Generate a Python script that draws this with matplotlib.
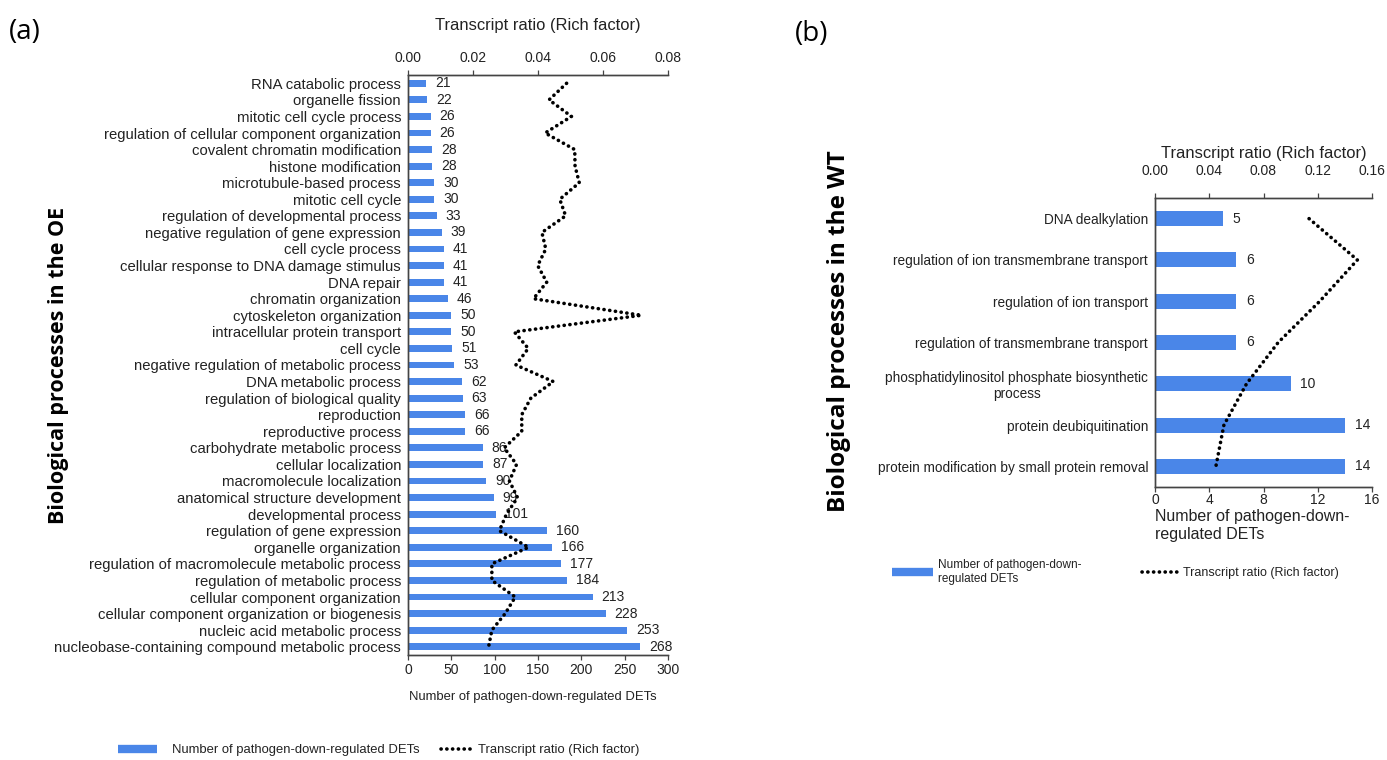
import matplotlib
matplotlib.use("Agg")
import matplotlib.pyplot as plt
from matplotlib.lines import Line2D
from matplotlib.ticker import FormatStrFormatter

# ---- Panel (a): OE ----
oe_terms = [
    "RNA catabolic process", "organelle fission", "mitotic cell cycle process",
    "regulation of cellular component organization", "covalent chromatin modification",
    "histone modification", "microtubule-based process", "mitotic cell cycle",
    "regulation of developmental process", "negative regulation of gene expression",
    "cell cycle process", "cellular response to DNA damage stimulus", "DNA repair",
    "chromatin organization", "cytoskeleton organization", "intracellular protein transport",
    "cell cycle", "negative regulation of metabolic process", "DNA metabolic process",
    "regulation of biological quality", "reproduction", "reproductive process",
    "carbohydrate metabolic process", "cellular localization", "macromolecule localization",
    "anatomical structure development", "developmental process", "regulation of gene expression",
    "organelle organization", "regulation of macromolecule metabolic process",
    "regulation of metabolic process", "cellular component organization",
    "cellular component organization or biogenesis", "nucleic acid metabolic process",
    "nucleobase-containing compound metabolic process",
]
oe_counts = [21, 22, 26, 26, 28, 28, 30, 30, 33, 39, 41, 41, 41, 46, 50, 50, 51, 53, 62,
             63, 66, 66, 86, 87, 90, 99, 101, 160, 166, 177, 184, 213, 228, 253, 268]
oe_ratio = [0.0488, 0.0434, 0.0503, 0.0422, 0.0513, 0.0514, 0.0527, 0.0467, 0.0485,
            0.0412, 0.0424, 0.0399, 0.0427, 0.0386, 0.0718, 0.0327, 0.0370, 0.0332,
            0.0447, 0.0378, 0.0350, 0.0350, 0.0296, 0.0334, 0.0312, 0.0337, 0.0303,
            0.0281, 0.0371, 0.0258, 0.0258, 0.0330, 0.0299, 0.0258, 0.0248]

# ---- Panel (b): WT ----
wt_terms = [
    "DNA dealkylation", "regulation of ion transmembrane transport",
    "regulation of ion transport", "regulation of transmembrane transport",
    "phosphatidylinositol phosphate biosynthetic\nprocess", "protein deubiquitination",
    "protein modification by small protein removal",
]
wt_counts = [5, 6, 6, 6, 10, 14, 14]
wt_ratio = [0.1136, 0.1492, 0.1215, 0.0908, 0.0675, 0.0508, 0.0449]

BLUE = "#4a86e8"
TXT = "#222222"
SPINE = "#444444"
SANS = ["Liberation Sans", "DejaVu Sans"]
HUM = ["Open Sans", "DejaVu Sans"]
plt.rcParams["font.family"] = SANS

DOT = dict(color="black", lw=2.6, linestyle=(0, (0.05, 1.55)),
           dash_capstyle="round", solid_capstyle="round")

W, H = 1387, 760
fig = plt.figure(figsize=(W / 100, H / 100), dpi=100)


def style_axes(ax, ax2, tick_fs, top_pad):
    for a in (ax, ax2):
        a.spines["right"].set_visible(False)
        for s in ("left", "bottom", "top"):
            a.spines[s].set_color(SPINE)
            a.spines[s].set_linewidth(1.0)
    ax.tick_params(axis="y", length=0, pad=5, labelcolor=TXT)
    ax.tick_params(axis="x", length=3.5, width=0.9, color=SPINE, labelsize=tick_fs,
                   labelcolor=TXT, pad=2)
    ax2.tick_params(axis="x", length=3.5, width=0.9, color=SPINE, labelsize=tick_fs,
                    labelcolor=TXT, pad=top_pad)


# ---------------- panel (a) ----------------
axa = fig.add_axes([408 / W, 1 - 655 / H, 260 / W, 580 / H])
ya = list(range(len(oe_terms)))
axa.barh(ya, oe_counts, height=0.42, color=BLUE, zorder=2)
axa.set_xlim(0, 300)
axa.set_xticks(range(0, 301, 50))
axa.set_ylim(len(oe_terms) - 0.5, -0.5)
axa.set_yticks(ya)
axa.set_yticklabels(oe_terms, fontsize=10.7)
for y, v in zip(ya, oe_counts):
    axa.annotate(str(v), (v, y), xytext=(6.5, 0), textcoords="offset points",
                 va="center", ha="left", fontsize=10, color=TXT, zorder=5)
axa.set_xlabel("Number of pathogen-down-regulated DETs", fontsize=9.4, color=TXT,
               labelpad=10, x=0.48)
axa.set_ylabel("Biological processes in the OE", fontsize=15.5, fontweight="bold",
               family=HUM, color="black")
axa.yaxis.set_label_coords((69 - 408) / 260, 0.5)

axa2 = axa.twiny()
axa2.plot(oe_ratio, ya, zorder=4, **DOT)
axa2.set_xlim(0, 0.08)
axa2.set_xticks([0, 0.02, 0.04, 0.06, 0.08])
axa2.xaxis.set_major_formatter(FormatStrFormatter("%.2f"))
axa2.set_ylim(len(oe_terms) - 0.5, -0.5)
axa2.set_xlabel("Transcript ratio (Rich factor)", fontsize=11.9, color=TXT, labelpad=15)
style_axes(axa, axa2, 10, 4)

# ---------------- panel (b) ----------------
axb = fig.add_axes([1155 / W, 1 - 487 / H, 217 / W, 289 / H])
yb = list(range(len(wt_terms)))
axb.barh(yb, wt_counts, height=0.36, color=BLUE, zorder=2)
axb.set_xlim(0, 16)
axb.set_xticks(range(0, 17, 4))
axb.set_ylim(len(wt_terms) - 0.5, -0.5)
axb.set_yticks(yb)
axb.set_yticklabels(wt_terms, fontsize=9.85, multialignment="center")
for y, v in zip(yb, wt_counts):
    axb.annotate(str(v), (v, y), xytext=(7, 0), textcoords="offset points",
                 va="center", ha="left", fontsize=10, color=TXT, zorder=5)
axb.set_xlabel("Number of pathogen-down-\nregulated DETs", fontsize=11.5, color=TXT,
               ha="left", x=0.0, labelpad=1, linespacing=1.3)
axb.set_ylabel("Biological processes in the WT", fontsize=17.5, fontweight="bold",
               family=HUM, color="black")
axb.yaxis.set_label_coords((851 - 1155) / 217, 0.54)

axb2 = axb.twiny()
axb2.plot(wt_ratio, yb, zorder=4, **DOT)
axb2.set_xlim(0, 0.16)
axb2.set_xticks([0, 0.04, 0.08, 0.12, 0.16])
axb2.xaxis.set_major_formatter(FormatStrFormatter("%.2f"))
axb2.set_ylim(len(wt_terms) - 0.5, -0.5)
axb2.set_xlabel("Transcript ratio (Rich factor)", fontsize=11.9, color=TXT, labelpad=4)
style_axes(axb, axb2, 10, 11)
axb.tick_params(axis="x", pad=1)

# ---------------- panel tags ----------------
fig.text(9 / W, 1 - 32 / H, "(a)", fontsize=20, family=HUM, va="center", ha="left")
fig.text(795 / W, 1 - 34 / H, "(b)", fontsize=20, family=HUM, va="center", ha="left")

# ---------------- legends ----------------
bar_handle = Line2D([], [], color=BLUE, lw=6, solid_capstyle="butt")
dot_handle = Line2D([], [], **DOT)

LEG = dict(loc="center left", frameon=False, borderpad=0, borderaxespad=0,
           labelcolor=TXT)
fig.legend([bar_handle], ["Number of pathogen-down-regulated DETs"],
           bbox_to_anchor=(118 / W, 1 - 750 / H), fontsize=9.4,
           handlelength=3.0, handletextpad=1.15, **LEG)
fig.legend([dot_handle], ["Transcript ratio (Rich factor)"],
           bbox_to_anchor=(441 / W, 1 - 750 / H), fontsize=9.4,
           handlelength=2.5, handletextpad=0.35, **LEG)

fig.legend([bar_handle], ["Number of pathogen-down-\nregulated DETs"],
           bbox_to_anchor=(892 / W, 1 - 572 / H), fontsize=8.5,
           handlelength=3.5, handletextpad=0.4, **LEG)
fig.legend([dot_handle], ["Transcript ratio (Rich factor)"],
           bbox_to_anchor=(1142 / W, 1 - 573 / H), fontsize=9,
           handlelength=2.9, handletextpad=0.4, **LEG)

fig.savefig("out.png", dpi=100)
